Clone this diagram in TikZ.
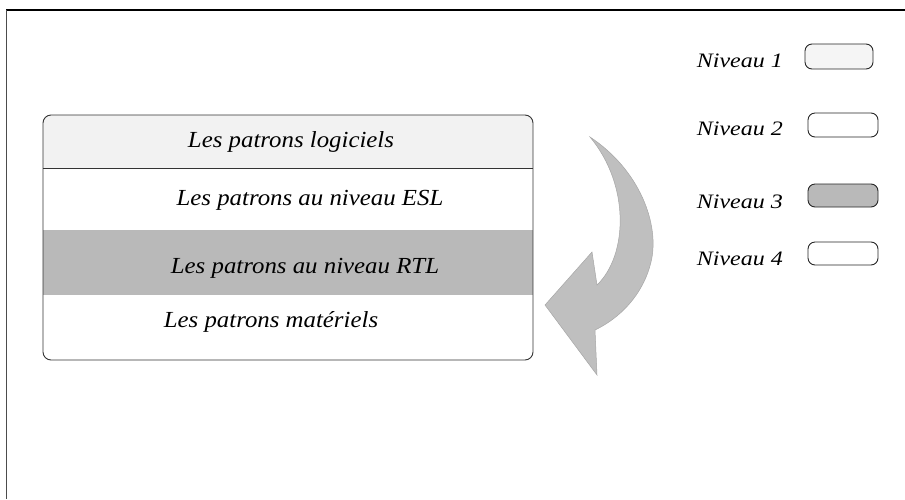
\documentclass[tikz,border=0pt]{standalone}
\usepackage{fontspec}
\setmainfont{Liberation Serif}
\newcommand{\rowtxt}[1]{\scalebox{1.08}[1]{#1}}
\newcommand{\legtxt}[1]{\scalebox{1.17}[1]{#1}}
\begin{document}
\begin{tikzpicture}[x=1pt,y=-1pt,
  rowtext/.style={anchor=base,inner sep=0pt,font=\fontsize{23}{25}\selectfont\itshape},
  legtext/.style={anchor=base east,inner sep=0pt,font=\fontsize{20.5}{22}\selectfont\itshape},
  legbox/.style={draw=black!85,line width=0.9pt,rounded corners=7pt},
  frameline/.style={line width=1.2pt}]
\useasboundingbox (0,0) rectangle (905,499);
% frame
\coordinate (fTL) at (6,10);
\coordinate (fTR) at (905,10);
\coordinate (fBL) at (6,499);
\draw[frameline,black] (fTR) -- (fTL);
\draw[line width=0.9pt,black!70] (fTL) -- (fBL);
% main stack
\begin{scope}
  \clip[rounded corners=8pt] (43,115) rectangle (533,360);
  \fill[gray!10] (43,115) rectangle (533,168);
  \fill[gray!55] (43,230) rectangle (533,295);
\end{scope}
\draw[black!80,line width=0.9pt,rounded corners=8pt] (43,115) rectangle (533,360);
\coordinate (sepL) at (43,168);
\coordinate (sepR) at (533,168);
\draw[black!80,line width=0.9pt] (sepL) -- (sepR);
\node[rowtext] (r1) at (291,147) {\rowtxt{Les patrons logiciels}};
\node[rowtext] (r2) at (310,205) {\rowtxt{Les patrons au niveau ESL}};
\node[rowtext] (r3) at (305,273) {\rowtxt{Les patrons au niveau RTL}};
\node[rowtext] (r4) at (271,327) {\rowtxt{Les patrons matériels}};
% curved arrow
\fill[gray!50,draw=gray!70,line width=0.5pt]
  (590,137) .. controls (640,170) and (660,225) .. (651,262)
  .. controls (643,295) and (620,318) .. (595,330)
  -- (597,375) -- (545,305) -- (592,252) -- (597,285)
  .. controls (628,255) and (630,185) .. (590,137) -- cycle;
% legend
\node[legtext] (t1) at (783,67) {\legtxt{Niveau 1}};
\node[legtext] (t2) at (783,135) {\legtxt{Niveau 2}};
\node[legtext] (t3) at (783,208) {\legtxt{Niveau 3}};
\node[legtext] (t4) at (783,265) {\legtxt{Niveau 4}};
\draw[legbox,fill=gray!8] (805,44) rectangle (873,69);
\draw[legbox] (808,113) rectangle (878,137);
\draw[legbox,fill=gray!55] (808,184) rectangle (878,207);
\draw[legbox] (808,242) rectangle (878,265);
\end{tikzpicture}
\end{document}
